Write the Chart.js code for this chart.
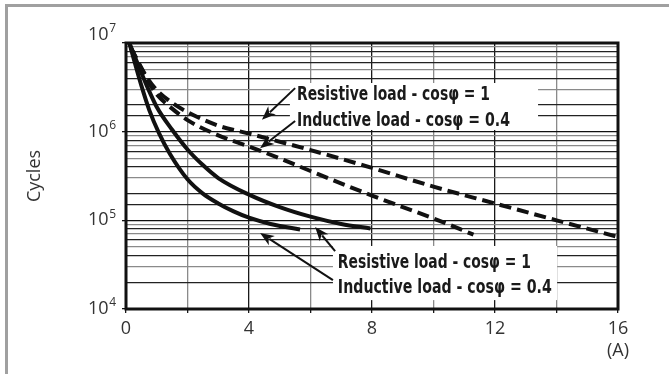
<!DOCTYPE html>
<html>
<head>
<meta charset="utf-8">
<script src="https://cdn.jsdelivr.net/npm/chart.js@4.4.0/dist/chart.umd.min.js"></script>
<style>
  html, body { margin: 0; padding: 0; background: #fff; }
  #wrap { position: relative; width: 669px; height: 374px; }
</style>
</head>
<body>
<div id="wrap"><canvas id="lifeChart" width="669" height="374"></canvas></div>
<script>
// electrical life vs switched current
const resDashX = [0.15, 0.7, 1.0, 1.43, 2, 3, 4, 6, 8, 10, 12, 14, 16];
const resDashY = [8.9e6, 4.0e6, 2.95e6, 2.2e6, 1.66e6, 1.17e6, 9.5e5, 6.2e5, 3.9e5, 2.4e5, 1.55e5, 1.0e5, 6.5e4];

const indDashX = [0.15, 0.7, 1.0, 1.5, 2, 3, 4, 5, 6, 8, 10, 11.3];
const indDashY = [8.9e6, 3.8e6, 2.63e6, 1.82e6, 1.35e6, 9.1e5, 6.8e5, 5.0e5, 3.6e5, 1.9e5, 1.05e5, 6.9e4];

const resSolidX = [0.11, 0.4, 0.7, 1.0, 1.5, 2.0, 2.5, 3.0, 4.0, 5.0, 6.0, 7.0, 7.95];
const resSolidY = [1.0e7, 5.62e6, 3.16e6, 1.9e6, 1.05e6, 6.3e5, 4.2e5, 3.0e5, 1.95e5, 1.41e5, 1.1e5, 9.1e4, 8.1e4];

const indSolidX = [0.11, 0.3, 0.5, 0.76, 1.08, 1.43, 2.0, 2.5, 3.0, 3.5, 4.0, 4.7, 5.66];
const indSolidY = [1.0e7, 5.75e6, 3.3e6, 1.74e6, 9.5e5, 5.6e5, 2.9e5, 2.0e5, 1.55e5, 1.26e5, 1.07e5, 9.1e4, 7.9e4];

// tick labels
const xTickValues = [0, 4, 8, 12, 16];
const xTickText = ["0", "4", "8", "12", ["16", "(A)"]];
const yTickValues = [1e4, 1e5, 1e6, 1e7];
const yTickExp = ["4", "5", "6", "7"];

// callout texts (anchored in data units)
const noteText = [
  "Resistive load - cos\u03c6 = 1",
  "Inductive load - cos\u03c6 = 0.4",
  "Resistive load - cos\u03c6 = 1",
  "Inductive load - cos\u03c6 = 0.4",
];
const noteAt = [[5.56, 2.28e6], [5.56, 1.17e6], [6.89, 2.88e4], [6.89, 1.53e4]];
const noteWidth = [193, 213, 193, 214];
const boxCorners = [
  [[5.33, 3.54e6], [13.4, 1.045e6]],
  [[6.73, 5.14e4], [14.02, 1.26e4]],
];
const arrowTail = [[5.5, 3.1e6], [5.5, 1.32e6], [6.8, 4.5e4], [6.73, 2.12e4]];
const arrowTip = [[4.42, 1.36e6], [4.36, 6.5e5], [6.15, 8.4e4], [4.36, 7.2e4]];

const tickFont = "'Open Sans', Lato, sans-serif";
const noteFont = "bold 19px 'Liberation Sans Narrow', 'DejaVu Sans Condensed', 'Liberation Sans', sans-serif";

const toPoints = (xs, ys) => xs.map((x, i) => ({ x: x, y: ys[i] }));

function drawArrow(ctx, x1, y1, x2, y2) {
  const ang = Math.atan2(y2 - y1, x2 - x1);
  const len = 14, hw = 5.5;
  const bx = x2 - len * Math.cos(ang);
  const by = y2 - len * Math.sin(ang);
  ctx.beginPath();
  ctx.moveTo(x1, y1);
  ctx.lineTo(bx + 3 * Math.cos(ang), by + 3 * Math.sin(ang));
  ctx.lineWidth = 2;
  ctx.stroke();
  ctx.beginPath();
  ctx.moveTo(x2, y2);
  ctx.lineTo(bx + hw * Math.sin(ang), by - hw * Math.cos(ang));
  ctx.lineTo(bx + 4 * Math.cos(ang), by + 4 * Math.sin(ang));
  ctx.lineTo(bx - hw * Math.sin(ang), by + hw * Math.cos(ang));
  ctx.closePath();
  ctx.fill();
}

const decorPlugin = {
  id: "decor",
  beforeDraw(chart) {
    const ctx = chart.ctx;
    ctx.save();
    ctx.fillStyle = "#a0a0a0";
    ctx.fillRect(5, 4, 664, 3);
    ctx.fillRect(5, 4, 3, 370);
    ctx.restore();
  },
  afterDraw(chart) {
    const { ctx, chartArea: a } = chart;
    const xs = chart.scales.x, ys = chart.scales.y;
    ctx.save();

    // plot frame
    ctx.lineWidth = 3;
    ctx.strokeStyle = "#111";
    ctx.strokeRect(a.left, a.top, a.right - a.left, a.bottom - a.top);

    // y labels 10^n
    ctx.fillStyle = "#333";
    ctx.textBaseline = "middle";
    ctx.textAlign = "left";
    yTickValues.forEach((v, i) => {
      let py = ys.getPixelForValue(v);
      if (i === yTickValues.length - 1) py -= 8;
      ctx.font = "18px " + tickFont;
      const w1 = ctx.measureText("10").width;
      ctx.font = "12px " + tickFont;
      const w2 = ctx.measureText(yTickExp[i]).width;
      const right = a.left - 10;
      ctx.font = "18px " + tickFont;
      ctx.fillText("10", right - w2 - w1 - 0.5, py);
      ctx.font = "12px " + tickFont;
      ctx.fillText(yTickExp[i], right - w2, py - 6);
    });

    // white callout boxes
    ctx.fillStyle = "#fff";
    boxCorners.forEach(([p, q]) => {
      const x1 = xs.getPixelForValue(p[0]), y1 = ys.getPixelForValue(p[1]);
      const x2 = xs.getPixelForValue(q[0]), y2 = ys.getPixelForValue(q[1]);
      ctx.fillRect(x1, y1, x2 - x1, y2 - y1);
    });

    // callout text
    ctx.fillStyle = "#1a1a1a";
    ctx.font = noteFont;
    ctx.textBaseline = "alphabetic";
    noteText.forEach((t, i) => {
      const px = xs.getPixelForValue(noteAt[i][0]);
      const py = ys.getPixelForValue(noteAt[i][1]);
      const w = ctx.measureText(t).width;
      ctx.save();
      ctx.translate(px, py);
      ctx.scale(noteWidth[i] / w, 1);
      ctx.fillText(t, 0, 0);
      ctx.restore();
    });

    // arrows
    ctx.strokeStyle = "#111";
    ctx.fillStyle = "#111";
    arrowTail.forEach((t, i) => {
      drawArrow(ctx,
        xs.getPixelForValue(t[0]), ys.getPixelForValue(t[1]),
        xs.getPixelForValue(arrowTip[i][0]), ys.getPixelForValue(arrowTip[i][1]));
    });
    ctx.restore();
  },
};

const lineStyle = {
  borderColor: "#111",
  borderWidth: 4,
  pointRadius: 0,
  fill: false,
  cubicInterpolationMode: "monotone",
  borderCapStyle: "butt",
};

const lifeChart = new Chart(document.getElementById("lifeChart"), {
  type: "line",
  data: {
    datasets: [
      { ...lineStyle, label: "Resistive (dashed)", data: toPoints(resDashX, resDashY), borderDash: [12, 6] },
      { ...lineStyle, label: "Inductive (dashed)", data: toPoints(indDashX, indDashY), borderDash: [12, 6] },
      { ...lineStyle, label: "Resistive", data: toPoints(resSolidX, resSolidY) },
      { ...lineStyle, label: "Inductive", data: toPoints(indSolidX, indSolidY) },
    ],
  },
  options: {
    responsive: false,
    animation: false,
    devicePixelRatio: 1,
    layout: { padding: { left: 0, top: 43, right: 51, bottom: 0 } },
    plugins: {
      legend: { display: false },
      tooltip: { enabled: false },
    },
    scales: {
      x: {
        type: "linear",
        min: 0,
        max: 16,
        ticks: {
          stepSize: 2,
          autoSkip: false,
          maxRotation: 0,
          padding: 5,
          color: "#333",
          font: { family: tickFont, size: 18, lineHeight: 1.2 },
          callback: (v) => {
            const i = xTickValues.indexOf(v);
            return i >= 0 ? xTickText[i] : "";
          },
        },
        grid: {
          color: (c) => (c.tick && c.tick.value % 4 === 0 ? "#1a1a1a" : "#8a8a8a"),
          tickColor: "#1a1a1a",
          lineWidth: 1.3,
          tickLength: 4,
        },
        border: { display: false },
        afterFit: (s) => { s.height = 65; },
      },
      y: {
        type: "logarithmic",
        min: 1e4,
        max: 1e7,
        ticks: { display: false, autoSkip: false },
        title: {
          display: true,
          text: "Cycles",
          color: "#333",
          font: { family: tickFont, size: 18 },
          padding: { top: 24, bottom: 0 },
        },
        grid: {
          color: (c) => {
            if (!c.tick) return "#888";
            const v = c.tick.value;
            const m = Math.round(v / Math.pow(10, Math.floor(Math.log10(v) + 1e-9)));
            if (m === 1) return "#111";
            return m % 2 === 0 ? "#222" : "#8a8a8a";
          },
          tickColor: (c) => {
            if (!c.tick) return "transparent";
            const v = c.tick.value;
            const m = Math.round(v / Math.pow(10, Math.floor(Math.log10(v) + 1e-9)));
            return m === 1 ? "#111" : "transparent";
          },
          lineWidth: 1.3,
          tickLength: 4,
        },
        border: { display: false },
        afterFit: (s) => { s.width = 126; },
      },
    },
  },
  plugins: [decorPlugin],
});
</script>
</body>
</html>
